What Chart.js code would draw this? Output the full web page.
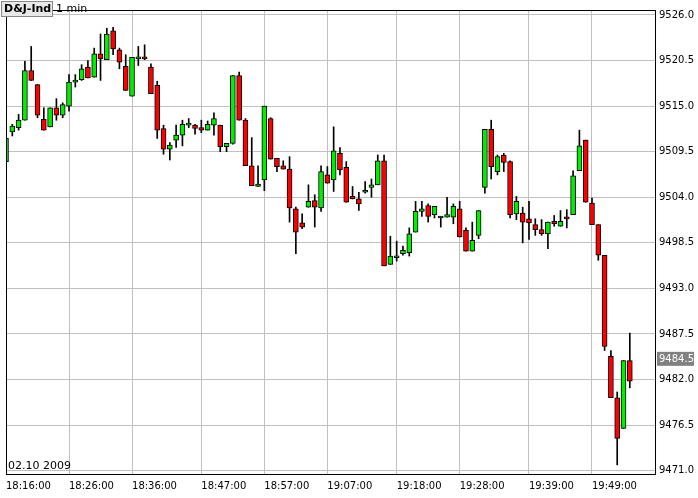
<!DOCTYPE html>
<html>
<head>
<meta charset="utf-8">
<script src="https://cdn.jsdelivr.net/npm/chart.js@4/dist/chart.umd.min.js"></script>
<style>
  html, body { margin: 0; padding: 0; background: #fff; }
  #wrap { width: 698px; height: 498px; }
</style>
</head>
<body>
<div id="wrap"><canvas id="chart" width="698" height="498"></canvas></div>
<script>
// one candle per minute, starting 18:16
const opens = [
  9508.3, 9511.9, 9512.4, 9513.3, 9519.3, 9517.6, 9513.4, 9512.5, 9514.8, 9513.9,
  9515.0, 9517.9, 9518.2, 9519.7, 9518.5, 9521.3, 9520.6, 9524.1, 9521.8, 9519.8,
  9516.2, 9520.7, 9520.8, 9519.7, 9517.5, 9512.3, 9509.8, 9510.9, 9511.5, 9512.7,
  9512.7, 9512.4, 9512.1, 9512.7, 9512.7, 9510.1, 9510.5, 9518.7, 9513.3, 9507.8,
  9505.3, 9506.1, 9513.5, 9508.7, 9507.8, 9507.4, 9502.6, 9500.9, 9502.8, 9503.6,
  9502.7, 9506.7, 9506.1, 9509.3, 9507.6, 9504.1, 9503.8, 9504.6, 9505.2, 9505.5,
  9508.4, 9495.9, 9496.7, 9497.2, 9497.3, 9499.8, 9502.3, 9503.0, 9501.9, 9501.5,
  9501.6, 9501.6, 9502.6, 9500.0, 9497.5, 9499.4, 9505.2, 9512.2, 9507.1, 9509.1,
  9508.3, 9502.0, 9502.1, 9501.4, 9500.7, 9500.1, 9499.6, 9501.1, 9500.5, 9501.6,
  9501.9, 9507.2, 9510.9, 9503.3, 9500.7, 9497.0, 9484.8, 9479.8, 9476.1, 9484.3
]
const highs = [
  9512.1, 9512.8, 9514.0, 9520.4, 9522.2, 9517.6, 9514.8, 9514.8, 9515.9, 9515.4,
  9518.8, 9518.8, 9520.0, 9520.5, 9522.0, 9523.7, 9524.4, 9524.5, 9522.0, 9521.2,
  9520.9, 9522.2, 9522.4, 9520.1, 9518.0, 9512.7, 9510.6, 9512.7, 9513.3, 9513.5,
  9512.8, 9513.3, 9513.2, 9514.2, 9512.7, 9510.5, 9518.7, 9519.1, 9513.5, 9511.2,
  9507.8, 9515.0, 9513.6, 9508.7, 9508.4, 9508.9, 9502.8, 9502.0, 9505.5, 9504.3,
  9507.8, 9507.7, 9512.5, 9510.0, 9508.3, 9505.3, 9504.6, 9505.9, 9506.2, 9509.1,
  9509.1, 9499.3, 9498.7, 9498.1, 9500.3, 9503.5, 9503.5, 9503.2, 9502.9, 9501.7,
  9504.0, 9503.2, 9503.5, 9500.3, 9501.0, 9502.4, 9512.2, 9513.3, 9509.1, 9509.3,
  9508.4, 9504.1, 9502.8, 9503.5, 9501.4, 9501.3, 9501.0, 9501.8, 9502.4, 9502.5,
  9507.2, 9512.1, 9510.9, 9503.9, 9500.7, 9497.0, 9485.5, 9480.5, 9484.3, 9487.6
]
const lows = [
  9507.4, 9511.4, 9512.1, 9513.3, 9518.1, 9513.6, 9512.1, 9512.5, 9513.3, 9513.6,
  9514.4, 9517.3, 9518.1, 9518.4, 9518.5, 9518.1, 9520.6, 9521.2, 9519.5, 9516.9,
  9516.2, 9519.9, 9520.6, 9516.5, 9511.1, 9509.2, 9508.5, 9510.0, 9510.2, 9512.4,
  9511.6, 9511.8, 9512.1, 9511.5, 9509.5, 9509.5, 9510.4, 9513.3, 9507.8, 9505.4,
  9505.3, 9504.8, 9508.6, 9507.1, 9507.4, 9501.0, 9497.2, 9500.2, 9502.8, 9500.4,
  9502.3, 9505.7, 9504.7, 9506.7, 9503.4, 9503.8, 9502.4, 9504.5, 9504.0, 9505.5,
  9495.7, 9495.9, 9496.3, 9497.0, 9496.9, 9499.8, 9501.7, 9501.0, 9501.5, 9500.4,
  9501.6, 9500.8, 9499.2, 9497.5, 9497.5, 9499.0, 9504.5, 9506.2, 9506.7, 9507.1,
  9501.5, 9501.3, 9498.5, 9498.9, 9499.4, 9499.4, 9497.8, 9500.5, 9500.5, 9500.3,
  9501.9, 9507.2, 9503.4, 9500.7, 9496.4, 9485.5, 9479.8, 9471.7, 9476.1, 9481.0
]
const closes = [
  9511.1, 9512.6, 9513.3, 9519.3, 9518.1, 9513.9, 9512.1, 9514.8, 9513.9, 9515.2,
  9517.9, 9518.1, 9519.5, 9518.4, 9521.3, 9520.7, 9523.7, 9521.9, 9520.3, 9516.9,
  9520.9, 9520.8, 9520.7, 9516.5, 9512.1, 9509.8, 9510.3, 9511.5, 9512.8, 9512.8,
  9512.3, 9512.1, 9512.8, 9513.5, 9510.1, 9510.5, 9518.7, 9513.3, 9507.8, 9505.4,
  9505.6, 9515.0, 9508.6, 9507.7, 9507.4, 9502.7, 9499.8, 9500.4, 9503.5, 9502.8,
  9507.1, 9505.7, 9509.6, 9507.3, 9503.4, 9503.8, 9503.2, 9504.8, 9505.5, 9508.4,
  9495.7, 9496.9, 9496.8, 9497.6, 9499.6, 9502.3, 9502.6, 9501.7, 9502.9, 9501.5,
  9501.9, 9502.9, 9499.2, 9497.5, 9498.8, 9502.4, 9512.2, 9507.7, 9508.9, 9508.2,
  9501.9, 9503.5, 9501.0, 9500.9, 9500.1, 9499.6, 9501.0, 9500.8, 9501.1, 9501.4,
  9506.6, 9510.2, 9503.4, 9500.7, 9497.0, 9486.0, 9479.8, 9474.9, 9484.3, 9481.8
]
const timeTicks = ["18:16:00", "18:26:00", "18:36:00", "18:47:00", "18:57:00",
                   "19:07:00", "19:18:00", "19:28:00", "19:39:00", "19:49:00"]
const tickIndex = [0, 10, 20, 31, 41, 51, 62, 72, 83, 93]
const priceTicks = [9471.0, 9476.5, 9482.0, 9487.5, 9493.0, 9498.5, 9504.0, 9509.5, 9515.0, 9520.5, 9526.0]
const lastPrice = 9484.5
const emptySlots = 4 // free space right of the last candle

const labels = []
for (let i = 0; i < opens.length + emptySlots; i++) labels.push("t" + i)
const up = opens.map((o, i) => closes[i] >= o)

// frame, title box, date and last price tag
const decor = {
  id: "decor",
  afterDraw(chart) {
    const { ctx, chartArea: a } = chart
    const y = chart.scales.y
    ctx.save()
    ctx.strokeStyle = "#000"
    ctx.lineWidth = 1
    ctx.strokeRect(a.left + 0.5, a.top + 0.5, a.right - a.left, a.bottom - a.top)

    ctx.font = "bold 11px 'DejaVu Sans', sans-serif"
    ctx.fillStyle = "#e8e8e8"
    ctx.fillRect(1, 1, 51, 15)
    ctx.strokeStyle = "#888"
    ctx.strokeRect(1.5, 1.5, 51, 15)
    ctx.fillStyle = "#000"
    ctx.textBaseline = "middle"
    ctx.fillText("D&J-Ind", 4, 9)
    ctx.font = "11px 'DejaVu Sans', sans-serif"
    ctx.fillText("1 min", 56, 9)
    ctx.fillText("02.10 2009", a.left + 2, a.bottom - 8)

    const py = y.getPixelForValue(lastPrice)
    ctx.fillStyle = "#808080"
    ctx.fillRect(a.right + 2, py - 7, 37, 14)
    ctx.fillStyle = "#fff"
    ctx.font = "10px 'DejaVu Sans', sans-serif"
    ctx.fillText(lastPrice.toFixed(1), a.right + 4, py + 1)
    ctx.restore()
  }
}

new Chart(document.getElementById("chart"), {
  type: "bar",
  data: {
    labels: labels,
    datasets: [
      {
        label: "wick",
        data: lows.map((l, i) => [l, highs[i]]),
        backgroundColor: "#000",
        borderWidth: 0,
        barThickness: 1,
        grouped: false,
        order: 2,
      },
      {
        label: "body",
        data: opens.map((o, i) => [o, closes[i]]),
        backgroundColor: up.map((u) => (u ? "#00ee00" : "#ff0000")),
        borderColor: "#000",
        borderWidth: 1,
        borderSkipped: false,
        barThickness: 5,
        minBarLength: 2,
        grouped: false,
        order: 1,
      },
    ],
  },
  options: {
    responsive: false,
    animation: false,
    layout: { padding: { left: 2, top: 7, right: 0, bottom: 0 } },
    plugins: { legend: { display: false }, tooltip: { enabled: false } },
    scales: {
      x: {
        offset: false,
        min: -0.4,
        grid: {
          offset: false,
          color: (c) => (tickIndex.includes(c.index) ? "#c0c0c0" : "rgba(0,0,0,0)"),
          drawTicks: false,
        },
        border: { display: false },
        ticks: {
          autoSkip: false,
          maxRotation: 0,
          align: "start",
          padding: 6,
          color: "#000",
          font: { family: "'DejaVu Sans', sans-serif", size: 10 },
          callback: (v, i) => (tickIndex.includes(i) ? timeTicks[tickIndex.indexOf(i)] : ""),
        },
      },
      y: {
        position: "right",
        min: 9470.6,
        max: 9526.6,
        afterBuildTicks: (s) => { s.ticks = priceTicks.map((v) => ({ value: v })) },
        grid: { color: "#c0c0c0", drawTicks: false },
        border: { display: false },
        ticks: {
          padding: 4,
          color: "#000",
          font: { family: "'DejaVu Sans', sans-serif", size: 10 },
          callback: (v) => Number(v).toFixed(1),
        },
      },
    },
  },
  plugins: [decor],
})
</script>
</body>
</html>
